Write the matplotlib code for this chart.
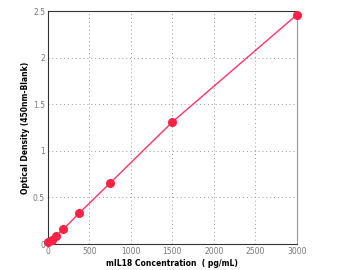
from matplotlib import pyplot as plt

conc = [0, 46.875, 93.75, 187.5, 375, 750, 1500, 3000]
od = [0.02, 0.045, 0.085, 0.16, 0.33, 0.655, 1.31, 2.46]
xticks = [0, 500, 1000, 1500, 2000, 2500, 3000]
yticks = [0, 0.5, 1, 1.5, 2, 2.5]
ytick_labels = ["0", "0.5", "1", "1.5", "2", "2.5"]

fig = plt.figure(figsize=(3.42, 2.70), dpi=100, facecolor="white")
ax = fig.add_axes([0.140, 0.096, 0.728, 0.863])

ax.plot(conc, od, color="#ff3366", lw=1, zorder=3)
ax.plot(conc, od, "o", color="#ff2244", ms=5.5, zorder=4, clip_on=False)

ax.set_xlim(0, 3000)
ax.set_ylim(0, 2.5)
ax.set_xticks(xticks)
ax.set_yticks(yticks)
ax.set_yticklabels(ytick_labels)
ax.grid(True, color="#999999", linestyle=(0, (1, 3)), lw=0.7)
ax.tick_params(length=0, labelsize=5.5, labelcolor="#777777", pad=2)

for s in ["left", "bottom", "top"]:
    ax.spines[s].set_color("#333333")
ax.spines["right"].set_color("#999999")
for s in ax.spines.values():
    s.set_linewidth(0.8)

ax.set_xlabel("mIL18 Concentration  ( pg/mL)", fontsize=5.5, fontweight="bold", labelpad=2)
ax.set_ylabel("Optical Density (450nm-Blank)", fontsize=5.5, fontweight="bold", labelpad=2)

plt.savefig("out.png", dpi=100)
plt.close()
